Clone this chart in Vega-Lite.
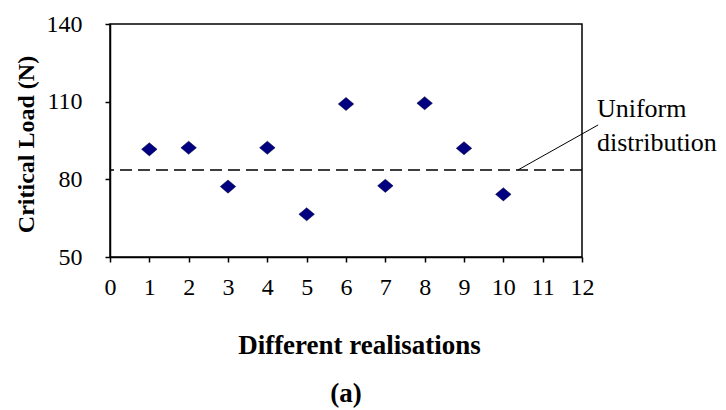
{
  "$schema": "https://vega.github.io/schema/vega-lite/v6.json",
  "width": 472,
  "height": 233,
  "autosize": {"type": "none"},
  "padding": {"left": 110, "top": 24, "right": 144, "bottom": 153},
  "background": "white",
  "config": {
    "view": {"stroke": "black", "strokeWidth": 1.5},
    "font": "Liberation Serif",
    "axis": {
      "grid": false,
      "domainColor": "black",
      "domainWidth": 1.5,
      "tickColor": "black",
      "tickWidth": 1.5,
      "tickSize": 5,
      "labelFont": "Liberation Serif",
      "labelFontSize": 24,
      "labelColor": "black",
      "labelOverlap": false,
      "titleFont": "Liberation Serif",
      "titleFontSize": 24,
      "titleFontWeight": "bold",
      "titleColor": "black"
    },
    "axisX": {"labelOverlap": false, "labelSeparation": 0}
  },
  "encoding": {
    "x": {
      "field": "realisation", "type": "quantitative",
      "scale": {"domain": [0, 12], "nice": false},
      "axis": {
        "values": [0,1,2,3,4,5,6,7,8,9,10,11,12],
        "labelPadding": 13,
        "labelFlush": false,
        "labelOverlap": false,
        "labelBound": false,
        "labelExpr": "datum.label",
        "title": "Different realisations",
        "titleFontSize": 27,
        "titleX": 249,
        "titleY": 96,
        "titleBaseline": "alphabetic",
        "titleAlign": "center",
        "titleAnchor": null
      }
    },
    "y": {
      "field": "load", "type": "quantitative",
      "scale": {"domain": [50, 140], "nice": false},
      "axis": {
        "values": [50, 80, 110, 140],
        "labelPadding": 23,
        "labelFlush": false,
        "title": "Critical Load (N)",
        "titleAngle": -90,
        "titleX": -77,
        "titleY": 120,
        "titleBaseline": "alphabetic",
        "titleAlign": "center",
        "titleAnchor": null
      }
    }
  },
  "layer": [
    {
      "data": {"values": [{"load": 83.6}]},
      "mark": {"type": "rule", "color": "black", "strokeWidth": 1.5, "strokeDash": [12, 6]},
      "encoding": {
        "x": null,
        "y": {"field": "load", "type": "quantitative"}
      }
    },
    {
      "data": {"values": [
        {"realisation": 1, "load": 91.6},
        {"realisation": 2, "load": 92.2},
        {"realisation": 3, "load": 77.2},
        {"realisation": 4, "load": 92.2},
        {"realisation": 5, "load": 66.5},
        {"realisation": 6, "load": 109.1},
        {"realisation": 7, "load": 77.5},
        {"realisation": 8, "load": 109.4},
        {"realisation": 9, "load": 92.0},
        {"realisation": 10, "load": 74.2}
      ]},
      "mark": {"type": "point", "shape": "M-1,0L0,-0.85L1,0L0,0.85Z", "filled": true, "size": 240, "color": "#000080", "stroke": "#000033", "strokeWidth": 0.5, "opacity": 1}
    },
    {
      "data": {"values": [{"realisation": 10.37, "load": 83.6, "realisation2": 12.41, "load2": 101.0}]},
      "mark": {"type": "rule", "color": "black", "strokeWidth": 1},
      "encoding": {
        "x2": {"field": "realisation2"},
        "y2": {"field": "load2"}
      }
    },
    {
      "data": {"values": [
        {"label": "Uniform", "realisation": 12.38, "load": 104.1},
        {"label": "distribution", "realisation": 12.38, "load": 91.1}
      ]},
      "mark": {"type": "text", "align": "left", "baseline": "alphabetic", "font": "Liberation Serif", "fontSize": 26, "color": "black"},
      "encoding": {
        "text": {"field": "label"}
      }
    },
    {
      "data": {"values": [{"label": "(a)", "realisation": 6, "load": -5.9}]},
      "mark": {"type": "text", "align": "center", "baseline": "alphabetic", "font": "Liberation Serif", "fontSize": 27, "fontWeight": "bold", "color": "black"},
      "encoding": {
        "text": {"field": "label"}
      }
    }
  ]
}
